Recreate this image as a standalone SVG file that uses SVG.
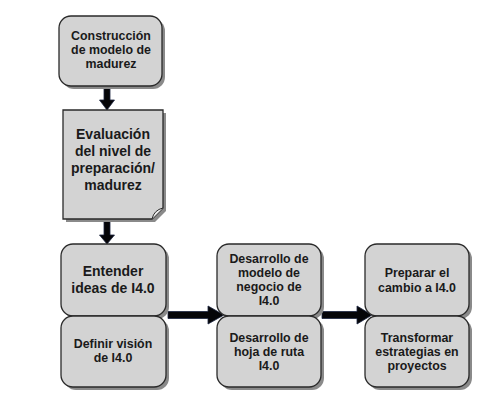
<svg xmlns="http://www.w3.org/2000/svg" width="495" height="401" viewBox="0 0 495 401">
<style>
.box{fill:#d3d3d3;stroke:#2a2a2a;stroke-width:1.3}
.shadow{fill:#8a8a8a}
.t{font-family:"Liberation Sans",Arial,sans-serif;font-weight:bold;fill:#1a1a1a;text-anchor:middle}
.s{font-size:12.4px}
.l{font-size:14px}
.arr{fill:#050508;stroke:#1c2440;stroke-width:0.8}
</style>
<rect width="495" height="401" fill="#ffffff"/>
<g id="connectors">
<polygon class="arr" points="104,87 110,87 110,100 114.5,100 107,110 99.5,100 104,100"/>
<polygon class="arr" points="104,221 110,221 110,235 114.5,235 107,244 99.5,235 104,235"/>
<polygon class="arr" points="168,311.5 208,311.5 208,306 224,315 208,324 208,318.5 168,318.5"/>
<polygon class="arr" points="322,311.5 357,311.5 357,306 372,315 357,324 357,318.5 322,318.5"/>
</g>
<g id="n1">
<rect class="shadow" x="62" y="19" width="103" height="70" rx="12"/>
<rect class="box" x="59" y="16" width="103" height="70" rx="12"/>
<text class="t s" x="111" y="40">Construcción</text>
<text class="t s" x="111" y="54">de modelo de</text>
<text class="t s" x="111" y="68">madurez</text>
</g>
<g id="n2">
<path class="shadow" d="M66,113 H166 V211 L155,222 H66 Z"/>
<path class="box" d="M63,110 H163 V208 L152,219 H63 Z"/>
<path d="M152,219 Q154,210 163,208" fill="#ececec" stroke="#2a2a2a" stroke-width="1"/>
<text class="t l" x="113" y="139">Evaluación</text>
<text class="t l" x="113" y="156">del nivel de</text>
<text class="t l" x="113" y="173">preparación/</text>
<text class="t l" x="113" y="190">madurez</text>
</g>
<g id="n3">
<rect class="shadow" x="64" y="247" width="105" height="72" rx="12"/>
<rect class="box" x="61" y="244" width="105" height="72" rx="12"/>
<text class="t l" x="113" y="276">Entender</text>
<text class="t l" x="113" y="293">ideas de I4.0</text>
</g>
<g id="n4">
<rect class="shadow" x="64" y="319" width="105" height="71" rx="12"/>
<rect class="box" x="61" y="316" width="105" height="71" rx="12"/>
<text class="t s" x="113" y="348">Definir visión</text>
<text class="t s" x="113" y="362">de I4.0</text>
</g>
<g id="n5">
<rect class="shadow" x="220" y="247" width="104" height="72" rx="12"/>
<rect class="box" x="217" y="244" width="104" height="72" rx="12"/>
<text class="t s" x="269" y="263">Desarrollo de</text>
<text class="t s" x="269" y="277">modelo de</text>
<text class="t s" x="269" y="291">negocio de</text>
<text class="t s" x="269" y="305">I4.0</text>
</g>
<g id="n6">
<rect class="shadow" x="220" y="319" width="104" height="71" rx="12"/>
<rect class="box" x="217" y="316" width="104" height="71" rx="12"/>
<text class="t s" x="269" y="342">Desarrollo de</text>
<text class="t s" x="269" y="356">hoja de ruta</text>
<text class="t s" x="269" y="370">I4.0</text>
</g>
<g id="n7">
<rect class="shadow" x="368" y="247" width="104" height="72" rx="12"/>
<rect class="box" x="365" y="244" width="104" height="72" rx="12"/>
<text class="t s" x="417" y="277">Preparar el</text>
<text class="t s" x="417" y="292">cambio a I4.0</text>
</g>
<g id="n8">
<rect class="shadow" x="368" y="319" width="104" height="71" rx="12"/>
<rect class="box" x="365" y="316" width="104" height="71" rx="12"/>
<text class="t s" x="417" y="342">Transformar</text>
<text class="t s" x="417" y="356">estrategias en</text>
<text class="t s" x="417" y="370">proyectos</text>
</g>
</svg>
